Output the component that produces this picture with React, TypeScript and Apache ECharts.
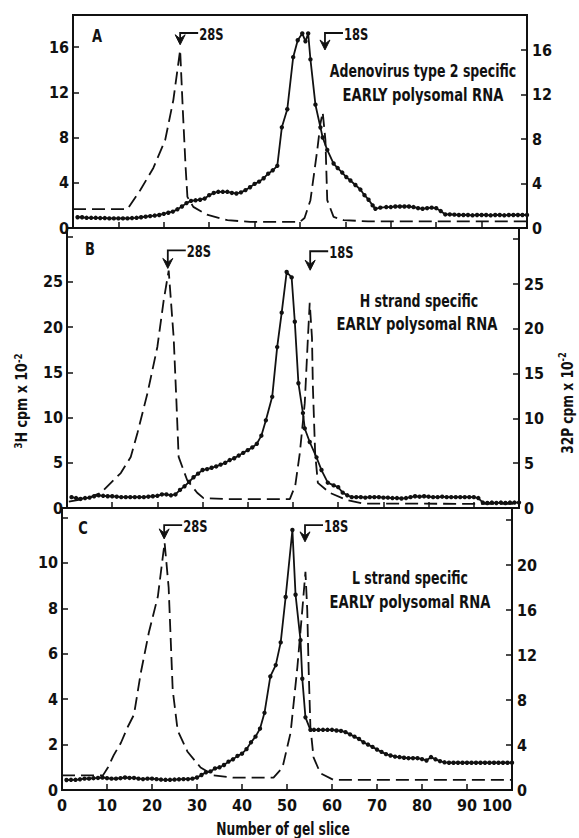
import React, { useEffect, useRef } from "react";
import * as echarts from "echarts";

// ---------- data ----------
const sliceMin = 0;
const sliceMax = 100;
const sliceStep = 10;

// Panel A
const dashedA: [number, number][] = [
  [0, 1.7], [12, 1.7], [14.8, 3.4], [17.7, 5.4], [20.3, 7.9], [22.1, 11.5], [23.6, 16.0],
  [24.2, 10.5], [24.8, 5.5], [25.2, 2.8], [26.5, 1.9], [29.5, 1.2], [34, 0.7], [39, 0.55],
  [50, 0.55], [51, 0.9], [52.3, 2.5], [53.8, 7.0], [54.5, 9.4], [55, 10.4], [55.6, 7.9],
  [56, 2.5], [57.4, 1.0], [59.6, 0.7], [65, 0.6], [100, 0.6],
];
const dottedA: [number, number][] = [
  [1, 0.95], [2, 0.95], [3, 0.9], [4, 0.9], [5, 0.9], [6, 0.88], [7, 0.88], [8, 0.85], [9, 0.85],
  [10, 0.85], [11, 0.85], [12, 0.85], [13, 0.88], [14, 0.9], [15, 0.95], [16, 1.0], [17, 1.05],
  [18, 1.1], [19, 1.15], [20, 1.25], [21, 1.35], [22, 1.45], [23, 1.65], [24, 1.9], [25, 2.2],
  [26, 2.4], [27, 2.45], [28, 2.5], [29, 2.6], [30, 2.9], [31, 3.1], [32, 3.2], [33, 3.2],
  [34, 3.2], [35, 3.1], [36, 3.05], [37, 3.15], [38, 3.35], [39, 3.6], [40, 3.9], [41, 4.1],
  [42, 4.4], [43, 4.8], [44, 5.1], [45, 5.5], [46, 8.9], [47.2, 10.5], [48.5, 15.1],
  [49.5, 16.6], [50.5, 17.2], [51.2, 16.5], [51.8, 17.2], [52.3, 14.9], [53.4, 10.9],
  [54.5, 8.9], [55, 8.0], [56, 6.9], [57.4, 5.7], [58.3, 5.3], [59.3, 4.9], [60.2, 4.5],
  [61.1, 4.2], [62.2, 3.8], [63.3, 3.4], [64.2, 2.9], [65.1, 2.5], [66, 2.0], [66.6, 1.7],
  [67.7, 1.8], [69, 1.85], [70, 1.85], [71, 1.9], [72, 1.9], [73, 1.9], [74, 1.9], [75, 1.85],
  [76, 1.75], [77, 1.7], [78, 1.75], [79, 1.8], [80, 1.75], [81, 1.5], [82, 1.2], [83, 1.2],
  [84, 1.18], [85, 1.15], [86, 1.15], [87, 1.15], [88, 1.12], [89, 1.15], [90, 1.15],
  [91, 1.15], [92, 1.12], [93, 1.15], [94, 1.15], [95, 1.12], [96, 1.15], [97, 1.15],
  [98, 1.15], [99, 1.15], [100, 1.15],
];

// Panel B
const dashedB: [number, number][] = [
  [0.4, 0.7], [4.6, 1.1], [7.5, 1.7], [9.7, 2.8], [11.9, 3.9], [14.1, 5.7], [15.6, 8.4],
  [17.8, 12.8], [20, 18], [21.4, 23.2], [22.5, 26.5], [23.6, 19], [24.2, 12], [24.7, 5.7],
  [26.6, 3.1], [28.8, 1.7], [30.2, 1.1], [35, 1.0], [49.3, 1.0], [50.5, 2.5], [51.5, 6.1],
  [52.6, 11.7], [53.3, 19], [53.7, 22.9], [54.2, 19], [54.4, 13.5], [54.9, 6.1], [55.5, 2.8],
  [58.1, 1.7], [61.9, 0.9], [65.4, 0.5], [100, 0.45],
];
const dottedB: [number, number][] = [
  [1, 1.2], [2, 1.1], [3, 1.0], [4, 1.1], [5, 1.15], [6, 1.3], [7, 1.4], [8, 1.35], [9, 1.3],
  [10, 1.3], [11, 1.25], [12, 1.2], [13, 1.2], [14, 1.2], [15, 1.2], [16, 1.2], [17, 1.2],
  [18, 1.25], [19, 1.3], [20, 1.35], [21, 1.5], [22, 1.5], [23, 1.4], [24, 1.5], [25, 2.0],
  [26, 2.4], [27, 2.9], [28, 3.4], [29, 3.8], [30, 4.2], [31, 4.3], [32, 4.45], [33, 4.6],
  [34, 4.8], [35, 5.0], [36, 5.3], [37, 5.5], [38, 5.8], [39, 6.1], [40, 6.4], [41, 6.7],
  [42, 7.1], [43, 8.0], [44, 9.7], [45.4, 12.3], [46.5, 17.8], [47.5, 21.6], [48.6, 26.1],
  [49.7, 25.5], [50.4, 20.6], [51.2, 13.8], [52.2, 10.5], [52.6, 8.8], [53.7, 7.3],
  [55.2, 5.6], [56.3, 4.2], [57.7, 2.8], [59, 2.5], [60, 2.3], [61, 1.7], [62, 1.4], [63, 1.2],
  [64, 1.2], [65, 1.2], [66, 1.15], [67, 1.2], [68, 1.2], [69, 1.2], [70, 1.15], [71, 1.15],
  [72, 1.1], [73, 1.1], [74, 1.05], [75, 1.1], [76, 1.2], [77, 1.3], [78, 1.25], [79, 1.3],
  [80, 1.25], [81, 1.2], [82, 1.2], [83, 1.25], [84, 1.2], [85, 1.2], [86, 1.2], [87, 1.2],
  [88, 1.2], [89, 1.2], [90, 1.2], [91, 1.1], [92, 0.6], [93, 0.55], [94, 0.6], [95, 0.55],
  [96, 0.6], [97, 0.55], [98, 0.6], [99, 0.6], [100, 0.6],
];

// Panel C
const dashedC: [number, number][] = [
  [0, 1.3], [9.1, 1.3], [10.2, 2.0], [11.5, 3.1], [13.1, 4.2], [14.6, 5.6], [16, 6.7],
  [17.5, 10.4], [19.3, 14], [21.3, 17.2], [22.8, 22], [23.7, 18], [24.6, 8.9], [25.7, 5.3],
  [27.9, 3.4], [30.8, 2.0], [33.7, 1.3], [38.1, 1.1], [47, 1.1], [49, 2.0], [50.8, 5.1],
  [52.3, 10.9], [53.4, 16], [54.1, 19.4], [54.5, 16], [54.8, 10.9], [55.2, 5.6], [55.9, 2.9],
  [57.4, 1.5], [60.3, 0.9], [100, 0.9],
];
const dottedC: [number, number][] = [
  [1, 0.44], [2, 0.45], [3, 0.45], [4, 0.47], [5, 0.5], [6, 0.5], [7, 0.52], [8, 0.53],
  [9, 0.55], [10, 0.52], [11, 0.5], [12, 0.5], [13, 0.52], [14, 0.55], [15, 0.53], [16, 0.53],
  [17, 0.5], [18, 0.48], [19, 0.5], [20, 0.5], [21, 0.48], [22, 0.46], [23, 0.45], [24, 0.45],
  [25, 0.46], [26, 0.47], [27, 0.48], [28, 0.48], [29, 0.5], [30, 0.55], [31, 0.66], [32, 0.78],
  [33, 0.82], [34, 0.95], [35, 1.0], [36, 1.1], [37, 1.25], [38, 1.35], [39, 1.5], [40, 1.6],
  [41, 1.8], [42, 2.1], [43, 2.35], [44, 2.7], [45, 3.4], [46.3, 5.0], [47.5, 5.5],
  [48.6, 6.5], [49.7, 8.5], [51.2, 11.45], [51.9, 8.6], [53, 6.6], [53.4, 4.9], [54.1, 3.2],
  [55.2, 2.65], [56, 2.65], [57, 2.65], [58, 2.65], [59, 2.65], [60, 2.65], [61, 2.62],
  [62, 2.6], [63, 2.55], [64, 2.45], [65, 2.35], [66, 2.25], [67, 2.1], [68, 2.0], [69, 1.9],
  [70, 1.78], [71, 1.68], [72, 1.58], [73, 1.52], [74, 1.47], [75, 1.45], [76, 1.42],
  [77, 1.4], [78, 1.4], [79, 1.4], [80, 1.36], [81, 1.3], [82, 1.45], [83, 1.35], [84, 1.27],
  [85, 1.22], [86, 1.2], [87, 1.2], [88, 1.2], [89, 1.2], [90, 1.2], [91, 1.2], [92, 1.2],
  [93, 1.2], [94, 1.2], [95, 1.2], [96, 1.2], [97, 1.2], [98, 1.2], [99, 1.2], [100, 1.2],
];

// marker arrows: [slice, top value, tip value] on the left axis
const markerNames = ["28S", "18S"];
const arrowsA: [number, number, number][] = [[23.6, 17.24, 16.2], [55.5, 17.24, 15.74]];
const arrowsB: [number, number, number][] = [[22.3, 28.5, 26.5], [53.8, 28.4, 26.3]];
const arrowsC: [number, number, number][] = [[22.7, 11.67, 11.06], [54.0, 11.67, 10.93]];

// axis ticks shown with labels
const leftTicksA = [0, 4, 8, 12, 16];
const rightTicksA = [0, 4, 8, 12, 16];
const leftTicksB = [0, 5, 10, 15, 20, 25];
const rightTicksB = [0, 5, 10, 15, 20, 25];
const leftTicksC = [0, 2, 4, 6, 8, 10];
const rightTicksC = [0, 4, 8, 12, 16, 20];

const panelLetters = ["A", "B", "C"];
const panelTitles = [
  ["Adenovirus type 2 specific", "EARLY polysomal RNA"],
  ["H strand specific", "EARLY polysomal RNA"],
  ["L strand specific", "EARLY polysomal RNA"],
];
const xAxisTitle = "Number of gel slice";

// ---------- styling / layout ----------
const FONT = '"DejaVu Sans Condensed", "Liberation Sans", sans-serif';
const INK = "#111";

export default function App() {
  const ref = useRef<HTMLDivElement>(null);

  useEffect(() => {
    document.body.style.margin = "0";
    if (!ref.current) return;
    const chart = echarts.init(ref.current, undefined, { renderer: "svg" });

    const panels = [
      {
        grid: { left: 73, right: 52, top: 15, height: 213 },
        lmax: 18.83, lint: 4, rmax: 19.15, rint: 4,
        lt: leftTicksA, rt: rightTicksA,
        dashed: dashedA, dotted: dottedA, arrows: arrowsA,
      },
      {
        grid: { left: 67, right: 60, top: 228, height: 280 },
        lmax: 30.97, lint: 5, rmax: 31.25, rint: 5,
        lt: leftTicksB, rt: rightTicksB,
        dashed: dashedB, dotted: dottedB, arrows: arrowsB,
      },
      {
        grid: { left: 62, right: 67, top: 508, height: 282 },
        lmax: 12.42, lint: 2, rmax: 25.07, rint: 4,
        lt: leftTicksC, rt: rightTicksC,
        dashed: dashedC, dotted: dottedC, arrows: arrowsC,
      },
    ];

    const grids: any[] = [];
    const xAxes: any[] = [];
    const yAxes: any[] = [];
    const series: any[] = [];

    const labelStyle = { color: INK, fontFamily: FONT, fontWeight: "bold", fontSize: 16 };

    panels.forEach((p, i) => {
      grids.push({
        ...p.grid,
        show: true,
        borderColor: INK,
        borderWidth: 2,
        backgroundColor: "transparent",
      });
      xAxes.push({
        type: "value",
        gridIndex: i,
        min: sliceMin,
        max: sliceMax,
        interval: sliceStep,
        axisLine: { show: true, lineStyle: { color: INK, width: 2 } },
        axisTick: { show: true, inside: true, length: 6, lineStyle: { color: INK, width: 1.5 } },
        axisLabel: {
          show: i === 2,
          ...labelStyle,
          margin: 7,
          alignMaxLabel: "right",
        },
        splitLine: { show: false },
      });
      const ticksL = p.lt;
      const ticksR = p.rt;
      yAxes.push({
        type: "value",
        gridIndex: i,
        position: "left",
        min: 0,
        max: p.lmax,
        interval: p.lint,
        axisLine: { show: true, lineStyle: { color: INK, width: 2 } },
        axisTick: { show: true, inside: true, length: 6, lineStyle: { color: INK, width: 1.5 } },
        axisLabel: {
          ...labelStyle,
          margin: 4,
          formatter: (v: number) => (ticksL.includes(v) ? String(v) : ""),
        },
        splitLine: { show: false },
      });
      yAxes.push({
        type: "value",
        gridIndex: i,
        position: "right",
        min: 0,
        max: p.rmax,
        interval: p.rint,
        axisLine: { show: true, lineStyle: { color: INK, width: 2 } },
        axisTick: { show: true, inside: true, length: 6, lineStyle: { color: INK, width: 1.5 } },
        axisLabel: {
          ...labelStyle,
          margin: 5,
          formatter: (v: number) => (ticksR.includes(v) ? String(v) : ""),
        },
        splitLine: { show: false },
      });

      series.push({
        type: "line",
        xAxisIndex: i,
        yAxisIndex: 2 * i + 1,
        data: p.dashed,
        symbol: "none",
        lineStyle: { color: INK, width: 1.8, type: [13, 6] },
        z: 3,
      });
      series.push({
        type: "line",
        xAxisIndex: i,
        yAxisIndex: 2 * i,
        data: p.dotted,
        symbol: "circle",
        symbolSize: 4.4,
        showSymbol: true,
        showAllSymbol: true,
        itemStyle: { color: INK },
        lineStyle: { color: INK, width: 1.8 },
        z: 4,
      });
      const arrowData = p.arrows;
      series.push({
        type: "custom",
        xAxisIndex: i,
        yAxisIndex: 2 * i,
        data: arrowData,
        encode: { x: 0, y: [1, 2] },
        clip: false,
        z: 5,
        renderItem: (params: any, api: any) => {
          const top = api.coord([api.value(0), api.value(1)]);
          const tip = api.coord([api.value(0), api.value(2)]);
          const x = top[0];
          const name = markerNames[params.dataIndex];
          return {
            type: "group",
            children: [
              {
                type: "polyline",
                shape: { points: [[x + 18, top[1]], [x, top[1]], [x, tip[1] - 5]] },
                style: { stroke: INK, lineWidth: 1.8, fill: null },
              },
              {
                type: "polygon",
                shape: {
                  points: [[x - 5, tip[1] - 10], [x, tip[1] - 6], [x + 5, tip[1] - 10], [x, tip[1]]],
                },
                style: { fill: INK, stroke: INK, lineWidth: 1 },
              },
              {
                type: "text",
                x: x + 19,
                y: top[1] + 1,
                scaleX: 0.8,
                style: {
                  text: name,
                  x: 0,
                  y: 0,
                  textAlign: "left",
                  textVerticalAlign: "middle",
                  align: "left",
                  verticalAlign: "middle",
                  font: `bold 16px ${FONT}`,
                  fill: INK,
                },
              },
            ],
          };
        },
      });
    });

    const textEl = (text: string, x: number, y: number, size: number, sx: number) => ({
      type: "text",
      x,
      y,
      scaleX: sx,
      style: {
        text,
        fill: INK,
        font: `bold ${size}px ${FONT}`,
        textAlign: "center",
        textVerticalAlign: "middle",
        align: "center",
        verticalAlign: "middle",
      },
    });

    const titlePos = [
      [[423, 72], [423, 95]],
      [[419, 302], [417, 324]],
      [[410, 579], [410, 602]],
    ];
    const letterPos = [[97, 36], [90, 249], [83, 528]];

    const graphics: any[] = [];
    panelLetters.forEach((l, i) =>
      graphics.push(textEl(l, letterPos[i][0], letterPos[i][1], 17, 0.85))
    );
    panelTitles.forEach((lines, i) =>
      lines.forEach((t, j) =>
        graphics.push(textEl(t, titlePos[i][j][0], titlePos[i][j][1], 17, j === 0 ? 0.82 : 0.86))
      )
    );
    graphics.push(textEl(xAxisTitle, 283, 829, 17, 0.8));
    graphics.push({
      type: "text",
      x: 22,
      y: 401,
      rotation: Math.PI / 2,
      scaleX: 0.88,
      style: {
        text: "{n|3}{m|H cpm x 10}{n|-2}",
        fill: INK,
        textAlign: "center",
        textVerticalAlign: "middle",
        align: "center",
        verticalAlign: "middle",
        rich: {
          m: { font: `bold 16px ${FONT}`, fill: INK, lineHeight: 20 },
          n: { font: `bold 11px ${FONT}`, fill: INK, verticalAlign: "top" },
        },
      },
    });
    graphics.push({
      type: "text",
      x: 567,
      y: 403,
      rotation: Math.PI / 2,
      scaleX: 0.85,
      style: {
        text: "{m|32P cpm x 10}{n|-2}",
        fill: INK,
        textAlign: "center",
        textVerticalAlign: "middle",
        align: "center",
        verticalAlign: "middle",
        rich: {
          m: { font: `bold 16px ${FONT}`, fill: INK, lineHeight: 20 },
          n: { font: `bold 11px ${FONT}`, fill: INK, verticalAlign: "top" },
        },
      },
    });

    chart.setOption({
      animation: false,
      backgroundColor: "#fff",
      grid: grids,
      xAxis: xAxes,
      yAxis: yAxes,
      series,
      graphic: graphics,
    });

    return () => chart.dispose();
  }, []);

  return <div ref={ref} style={{ width: 579, height: 838 }} />;
}
